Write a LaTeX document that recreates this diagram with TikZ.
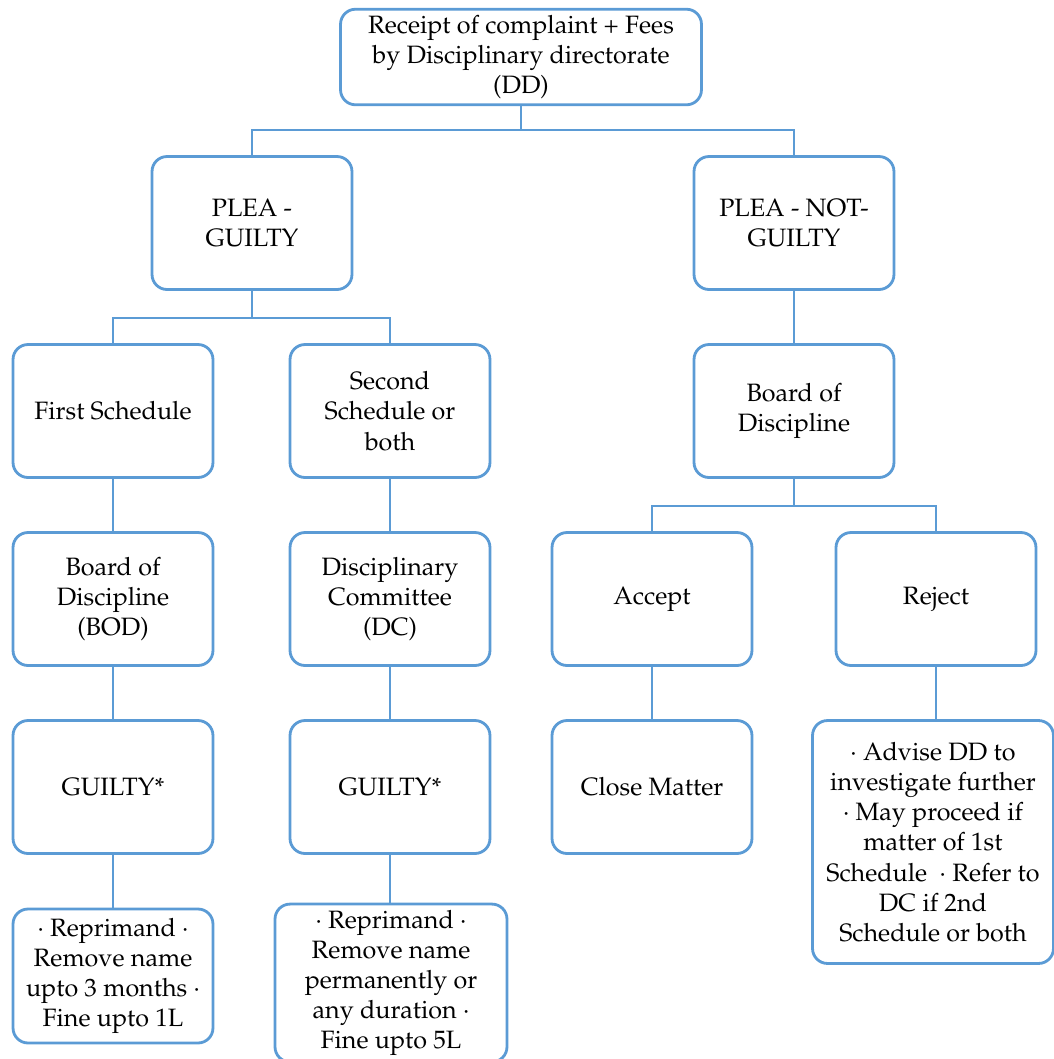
\documentclass[tikz,border=0pt]{standalone}
\usepackage[T1]{fontenc}
\usepackage{mathpazo}
\usetikzlibrary{arrows}
\definecolor{boxblue}{RGB}{91,155,213}

\begin{document}
\begin{tikzpicture}[x=0.02cm, y=-0.02cm,
  box/.style={draw=boxblue, line width=1.6pt, rounded corners=0.3cm, fill=white,
    minimum width=4cm, minimum height=2.66cm, align=center,
    font=\fontsize{14.3}{17.2}\selectfont},
  link/.style={draw=boxblue, line width=1.4pt}]
  \useasboundingbox (0,0) rectangle (1054,1059);
  \node[box, minimum width=7.22cm, minimum height=1.82cm] (dd) at (521,57) {Receipt of complaint + Fees\\by Disciplinary directorate\\(DD)};
  \node[box] (pg) at (252,223) {PLEA -\\GUILTY};
  \node[box] (png) at (794,223) {PLEA - NOT-\\GUILTY};
  \node[box] (first) at (113,411) {First Schedule};
  \node[box] (second) at (390,411) {Second\\Schedule or\\both};
  \node[box] (bodr) at (794,411) {Board of\\Discipline};
  \node[box] (bod) at (113,599) {Board of\\Discipline\\(BOD)};
  \node[box] (dc) at (390,599) {Disciplinary\\Committee\\(DC)};
  \node[box] (accept) at (652,599) {Accept};
  \node[box] (reject) at (936,599) {Reject};
  \node[box] (gl) at (113,787) {GUILTY*};
  \node[box] (gm) at (390,787) {GUILTY*};
  \node[box] (close) at (652,787) {Close Matter};
  \node[box, minimum width=4.82cm, minimum height=4.86cm] (advise) at (933,842) {\textperiodcentered\ Advise DD to\\investigate further\\\textperiodcentered\ May proceed if\\matter of 1st\\Schedule\ \ \textperiodcentered\ Refer to\\DC if 2nd\\Schedule or both};
  \node[box, minimum height=2.68cm] (penl) at (113,976) {\textperiodcentered\ Reprimand \textperiodcentered\\Remove name\\upto 3 months \textperiodcentered\\Fine upto 1L};
  \node[box, minimum width=4.64cm, minimum height=2.96cm] (penm) at (391,983) {\textperiodcentered\ Reprimand \textperiodcentered\\Remove name\\permanently or\\any duration \textperiodcentered\\Fine upto 5L};
  % junctions
  \coordinate (j1) at (521,130);
  \coordinate (j2) at (252,318);
  \coordinate (j3) at (794,506);
  \draw[link] (dd) -- (j1);
  \draw[link] (pg.north) |- (j1) -| (png.north);
  \draw[link] (pg) -- (j2);
  \draw[link] (first.north) |- (j2) -| (second.north);
  \draw[link] (png) -- (bodr);
  \draw[link] (bodr) -- (j3);
  \draw[link] (accept.north) |- (j3) -| (reject.north);
  \draw[link] (first) -- (bod);
  \draw[link] (second) -- (dc);
  \draw[link] (bod) -- (gl);
  \draw[link] (dc) -- (gm);
  \draw[link] (accept) -- (close);
  \draw[link] (reject.south) -- (reject.south |- advise.north);
  \draw[link] (gl) -- (penl);
  \draw[link] (gm.south) -- (gm.south |- penm.north);
\end{tikzpicture}
\end{document}
